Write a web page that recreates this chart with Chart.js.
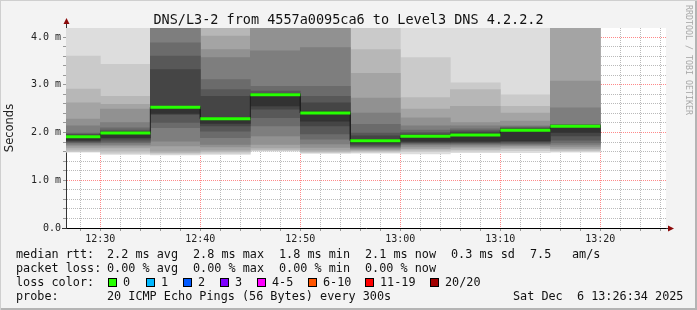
<!DOCTYPE html>
<html>
<head>
<meta charset="utf-8">
<script src="https://cdn.jsdelivr.net/npm/chart.js@4.4.0/dist/chart.umd.min.js"></script>
<style>
  body { margin: 0; background: #fff; }
  #wrap { position: relative; width: 697px; height: 310px; background: #f3f3f3;
          box-shadow: inset 1px 1px 0 #cfcfcf, inset -2px -2px 0 #b4b4b4;
          font-family: 'DejaVu Sans Mono', monospace; color: #111; overflow: hidden; }
  #wrap canvas { position: absolute; left: 0; top: 0; }
  #title { position: absolute; left: 0; top: 11px; width: 697px; text-align: center;
           font-size: 13.5px; line-height: 16px; white-space: pre; }
  #side { position: absolute; left: 694px; top: 5px; font-size: 8.3px; line-height: 10px;
          color: #a8a8a8; white-space: pre; transform-origin: 0 0; transform: rotate(90deg); }
  .txt { position: absolute; white-space: pre; font-size: 11.8px; line-height: 14px; }
  .sw { position: absolute; width: 7px; height: 7px; border: 1px solid #000; }
</style>
</head>
<body>
<div id="wrap">
  <canvas id="smokeChart" width="697" height="310"></canvas>
  <div id="title">DNS/L3-2 from 4557a0095ca6 to Level3 DNS 4.2.2.2</div>
  <div id="side">RRDTOOL / TOBI OETIKER</div>
  <div id="legend"></div>
</div>
<script>
// 5 minute slots (start time), median rtt in ms
const slotStarts = ['12:25', '12:30', '12:35', '12:40', '12:45', '12:50', '12:55', '13:00', '13:05', '13:10', '13:15'];
const medianRtt = [1.91, 1.99, 2.53, 2.29, 2.79, 2.41, 1.83, 1.92, 1.95, 2.05, 2.13];

// the 20 pings of each slot, sorted (ms)
const p1225 = [1.59, 1.60, 1.63, 1.68, 1.72, 1.75, 1.78, 1.80, 1.82, 1.84, 1.93, 1.95, 1.97, 1.99, 2.14, 2.28, 2.62, 2.91, 3.60, 4.50];
const p1230 = [1.54, 1.57, 1.61, 1.68, 1.72, 1.75, 1.79, 1.82, 1.86, 1.89, 2.01, 2.02, 2.05, 2.10, 2.21, 2.49, 2.59, 2.76, 3.43, 4.50];
const p1235 = [1.53, 1.55, 1.58, 1.61, 1.72, 1.82, 2.10, 2.21, 2.38, 2.40, 2.55, 3.32, 3.60, 3.88, 4.50, 4.60, 4.70, 4.80, 4.90, 5.00];
const p1240 = [1.54, 1.57, 1.60, 1.63, 1.70, 1.75, 1.89, 2.03, 2.14, 2.19, 2.31, 2.76, 2.90, 3.11, 3.57, 3.74, 4.02, 4.50, 4.60, 4.70];
const p1245 = [1.61, 1.62, 1.64, 1.68, 1.75, 1.93, 2.14, 2.31, 2.49, 2.56, 2.81, 2.82, 2.87, 2.97, 3.71, 4.50, 4.60, 4.70, 4.80, 4.90];
const p1250 = [1.56, 1.58, 1.60, 1.63, 1.69, 1.76, 1.86, 1.97, 2.14, 2.24, 2.45, 2.62, 2.76, 2.97, 3.78, 4.50, 4.60, 4.70, 4.80, 4.90];
const p1255 = [1.57, 1.59, 1.61, 1.63, 1.65, 1.68, 1.70, 1.72, 1.75, 1.78, 1.86, 1.93, 1.99, 2.17, 2.41, 2.72, 3.24, 3.74, 4.50, 4.60];
const p1300 = [1.55, 1.60, 1.63, 1.66, 1.70, 1.74, 1.76, 1.78, 1.80, 1.82, 1.94, 1.97, 2.00, 2.05, 2.14, 2.31, 2.49, 2.73, 3.57, 4.50];
const p1305 = [1.58, 1.61, 1.64, 1.68, 1.71, 1.74, 1.76, 1.78, 1.80, 1.82, 1.98, 2.01, 2.04, 2.08, 2.14, 2.21, 2.55, 2.90, 3.04, 4.50];
const p1310 = [1.58, 1.62, 1.66, 1.69, 1.72, 1.74, 1.76, 1.78, 1.81, 1.83, 2.07, 2.08, 2.10, 2.12, 2.14, 2.24, 2.41, 2.55, 2.79, 4.50];
const p1315 = [1.59, 1.61, 1.63, 1.66, 1.70, 1.74, 1.78, 1.84, 1.93, 2.00, 2.14, 2.15, 2.16, 2.17, 2.52, 3.08, 4.50, 4.60, 4.70, 4.80];
const pingSlots = [p1225, p1230, p1235, p1240, p1245, p1250, p1255, p1300, p1305, p1310, p1315];

const xTickLabels = ['12:30', '12:40', '12:50', '13:00', '13:10', '13:20'];
const yTickLabels = ['0.0', '1.0 m', '2.0 m', '3.0 m', '4.0 m'];

// loss colour legend
const lossLabels = ['0', '1', '2', '3', '4-5', '6-10', '11-19', '20/20'];
const lossColors = ['#26ff00', '#00b8ff', '#0059ff', '#7e00ff', '#ff00ff', '#ff5500', '#ff0000', '#a10000'];

const toMin = s => { const [h, m] = s.split(':').map(Number); return h * 60 + m; };
const fmtMin = v => String(Math.floor(v / 60)).padStart(2, '0') + ':' + String(Math.round(v % 60)).padStart(2, '0');
const slotLen = 5;
const startMin = toMin('12:26') + 34 / 60;   // graph covers the last hour
const endMin = startMin + 60;

// smoke bands: band k spans ping k .. ping 21-k, outer band lightest
const smoke = [];
for (let k = 0; k < 10; k++) {
    const g = Math.floor(19 * (9 - k)) + 50;
    smoke.push({
        type: 'bar',
        data: slotStarts.map((s, i) => ({ x: toMin(s) + slotLen / 2, y: [pingSlots[i][k], pingSlots[i][19 - k]] })),
        backgroundColor: `rgb(${g},${g},${g})`,
        borderWidth: 0,
        grouped: false,
        barThickness: 50   // one 5 minute slot at 10px per minute
    });
}
smoke.reverse(); // darkest band first so it is drawn on top

// median: green flat pieces plus a thin dark step line
const medianSeg = [];
const medianStep = [];
slotStarts.forEach((s, i) => {
    const x0 = toMin(s);
    medianSeg.push({ x: x0, y: medianRtt[i] }, { x: x0 + slotLen, y: medianRtt[i] }, { x: x0 + slotLen, y: null });
    medianStep.push({ x: x0, y: medianRtt[i] }, { x: x0 + slotLen, y: medianRtt[i] });
});

const majorRed = 'rgba(255,40,40,0.55)';
const minorGrey = 'rgba(130,130,130,0.55)';

// white plot area and the red axis arrows
const rrdFrame = {
    id: 'rrdFrame',
    beforeDraw(chart) {
        const { ctx, chartArea: a } = chart;
        ctx.save();
        ctx.fillStyle = '#ffffff';
        ctx.fillRect(a.left, a.top, a.right - a.left, a.bottom - a.top);
        ctx.restore();
    },
    afterDraw(chart) {
        const { ctx, chartArea: a } = chart;
        const x = Math.round(a.left) + 0.5, y = Math.round(a.bottom) + 0.5;
        ctx.save();
        ctx.strokeStyle = '#333';
        ctx.lineWidth = 1;
        ctx.beginPath();
        ctx.moveTo(x, a.top); ctx.lineTo(x, a.top - 6);
        ctx.moveTo(a.left - 4, y); ctx.lineTo(a.left, y);
        ctx.moveTo(a.right, y); ctx.lineTo(a.right + 3, y);
        ctx.stroke();
        ctx.fillStyle = '#8b0a0a';
        ctx.beginPath();
        ctx.moveTo(x - 3, a.top - 4); ctx.lineTo(x + 3, a.top - 4); ctx.lineTo(x, a.top - 10);
        ctx.closePath(); ctx.fill();
        ctx.beginPath();
        ctx.moveTo(a.right + 2, y - 3); ctx.lineTo(a.right + 2, y + 3); ctx.lineTo(a.right + 8, y);
        ctx.closePath(); ctx.fill();
        ctx.restore();
    }
};

const ctx = document.getElementById('smokeChart').getContext('2d');
new Chart(ctx, {
    type: 'bar',
    data: {
        datasets: [
            {
                type: 'line', data: medianSeg, borderColor: '#26ff00', borderWidth: 3,
                pointRadius: 0, fill: false, spanGaps: false, tension: 0
            },
            {
                type: 'line', data: medianStep, borderColor: '#202020', borderWidth: 1,
                pointRadius: 0, fill: false, tension: 0
            },
            ...smoke
        ]
    },
    options: {
        responsive: false,
        animation: false,
        events: [],
        layout: { padding: { top: 28, right: 31, bottom: 0, left: 0 } },
        plugins: { legend: { display: false }, tooltip: { enabled: false } },
        scales: {
            x: {
                type: 'linear',
                min: startMin,
                max: endMin,
                offset: false,
                z: 1,
                afterBuildTicks: scale => {
                    const ticks = [];
                    for (let t = Math.ceil(startMin / 2) * 2; t <= endMin; t += 2) ticks.push({ value: t });
                    scale.ticks = ticks;
                },
                afterFit: scale => { scale.height = 82; },
                ticks: {
                    autoSkip: false,
                    maxRotation: 0,
                    padding: 2,
                    color: '#222',
                    font: { family: 'DejaVu Sans Mono', size: 10 },
                    callback: v => xTickLabels.includes(fmtMin(v)) ? fmtMin(v) : ''
                },
                grid: {
                    offset: false,
                    tickLength: 3,
                    color: c => (c.tick && Math.round(c.tick.value) % 10 === 0) ? majorRed : minorGrey,
                    tickColor: '#999'
                },
                border: { color: '#000', dash: [1, 1] }
            },
            y: {
                min: 0,
                max: 4.19,
                z: 1,
                afterBuildTicks: scale => {
                    const ticks = [];
                    for (let i = 0; i <= 20; i++) ticks.push({ value: i / 5 });
                    scale.ticks = ticks;
                },
                afterFit: scale => { scale.width = 66; },
                ticks: {
                    autoSkip: false,
                    padding: 2,
                    color: '#222',
                    font: { family: 'DejaVu Sans Mono', size: 10 },
                    callback: v => { const i = Math.round(v * 5); return i % 5 === 0 ? yTickLabels[i / 5] : ''; }
                },
                title: {
                    display: true,
                    text: 'Seconds',
                    color: '#222',
                    font: { family: 'DejaVu Sans', size: 11.5 },
                    padding: { top: 3.5, bottom: 0 }
                },
                grid: {
                    tickLength: 3,
                    color: c => (c.tick && Math.round(c.tick.value * 5) % 5 === 0) ? majorRed : minorGrey,
                    tickColor: '#999'
                },
                border: { color: '#333', dash: [1, 1] }
            }
        }
    },
    plugins: [rrdFrame]
});

// text legend below the graph
const legend = document.getElementById('legend');
const addText = (x, y, s) => {
    const d = document.createElement('div');
    d.className = 'txt';
    d.style.left = x + 'px';
    d.style.top = y + 'px';
    d.textContent = s;
    legend.appendChild(d);
};
const rows = [
    [247, [[16, 'median rtt:'], [107, '2.2 ms avg'], [193, '2.8 ms max'], [279, '1.8 ms min'], [365, '2.1 ms now'], [451, '0.3 ms sd'], [530, '7.5'], [572, 'am/s']]],
    [261, [[16, 'packet loss:'], [107, '0.00 % avg'], [193, '0.00 % max'], [279, '0.00 % min'], [365, '0.00 % now']]],
    [275, [[16, 'loss color:']]],
    [289, [[16, 'probe:'], [107, '20 ICMP Echo Pings (56 Bytes) every 300s'], [513, 'Sat Dec  6 13:26:34 2025']]]
];
rows.forEach(([y, items]) => items.forEach(([x, s]) => addText(x, y, s)));
const swX = [108, 146, 183, 220, 257, 308, 365, 430];
lossLabels.forEach((lbl, i) => {
    const b = document.createElement('div');
    b.className = 'sw';
    b.style.left = swX[i] + 'px';
    b.style.top = '278px';
    b.style.background = lossColors[i];
    legend.appendChild(b);
    addText(swX[i] + 15, 275, lbl);
});
</script>
</body>
</html>
